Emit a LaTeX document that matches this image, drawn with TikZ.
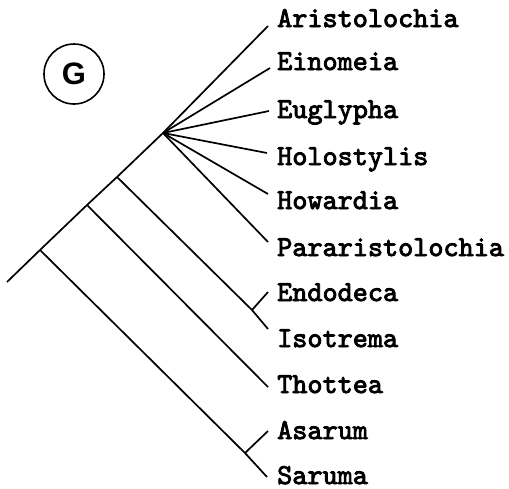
\documentclass[tikz,border=0pt]{standalone}
\usepackage{fontspec}
\setsansfont{Liberation Sans}
\newfontfamily\taxonfont{lmmono10-regular.otf}[BoldFont=lmmono10-regular.otf, BoldFeatures={FakeBold=3}]
\begin{document}
\begin{tikzpicture}[
        x=1pt, y=-1pt,
        branch/.style={draw, line width=1.7pt},
        taxon/.style={anchor=base west, inner sep=0pt, font=\taxonfont\bfseries\fontsize{28.8}{29}\selectfont},
        badge/.style={draw, circle, line width=1.6pt, minimum size=60pt, inner sep=0pt, font=\sffamily\bfseries\fontsize{31}{31}\selectfont},
    ]
    \useasboundingbox (0,0) rectangle (509,488);

    \node[badge](G) at (74,74){G};

    % backbone
    \coordinate (root) at (7,282);
    \coordinate (asa) at (40,250);
    \coordinate (tho) at (87,205);
    \coordinate (iso) at (117,177);
    \coordinate (ari) at (163,133);
    \coordinate (endiso) at (252,310);
    \coordinate (asasar) at (245,453);

    % tips
    \coordinate (t1) at (268,26);
    \coordinate (t2) at (270,68);
    \coordinate (t3) at (269,111);
    \coordinate (t4) at (267,153);
    \coordinate (t5) at (268,194);
    \coordinate (t6) at (268,242);
    \coordinate (t7) at (268,292);
    \coordinate (t8) at (268,329);
    \coordinate (t9) at (268,387);
    \coordinate (t10) at (268,431);
    \coordinate (t11) at (267,477);

    \draw[branch] (root) -- (asa) -- (tho) -- (iso) -- (ari) -- (t1);
    \draw[branch] (ari) -- (t2);
    \draw[branch] (ari) -- (t3);
    \draw[branch] (ari) -- (t4);
    \draw[branch] (ari) -- (t5);
    \draw[branch] (ari) -- (t6);
    \draw[branch] (iso) -- (endiso) -- (t8);
    \draw[branch] (endiso) -- (t7);
    \draw[branch] (tho) -- (t9);
    \draw[branch] (asa) -- (asasar) -- (t11);
    \draw[branch] (asasar) -- (t10);

    \node[taxon](Aristolochia) at (277,27){Aristolochia};
    \node[taxon](Einomeia) at (277,70){Einomeia};
    \node[taxon](Euglypha) at (277,118){Euglypha};
    \node[taxon](Holostylis) at (277,165){Holostylis};
    \node[taxon](Howardia) at (277,209){Howardia};
    \node[taxon](Pararistolochia) at (277,256){Pararistolochia};
    \node[taxon](Endodeca) at (277,301){Endodeca};
    \node[taxon](Isotrema) at (277,347){Isotrema};
    \node[taxon](Thottea) at (277,393){Thottea};
    \node[taxon](Asarum) at (277,439){Asarum};
    \node[taxon](Saruma) at (277,484){Saruma};

\end{tikzpicture}
\end{document}
